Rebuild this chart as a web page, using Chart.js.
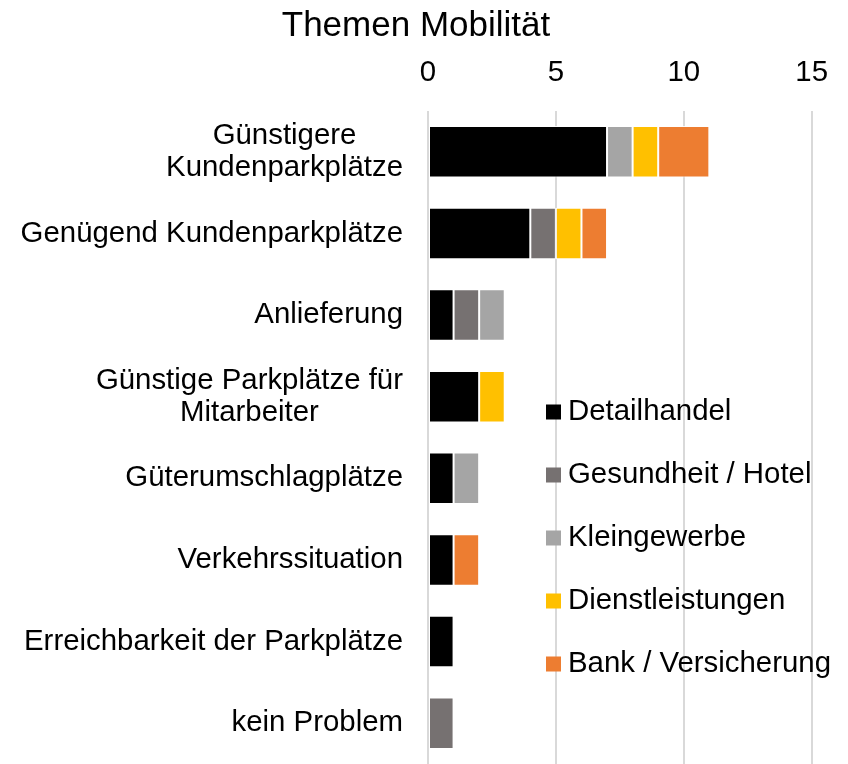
<!DOCTYPE html>
<html>
<head>
<meta charset="utf-8">
<title>Themen Mobilität</title>
<script src="https://cdn.jsdelivr.net/npm/chart.js@4.4.1/dist/chart.umd.min.js"></script>
<style>
    html, body { margin: 0; padding: 0; background: #fff; }
    #wrap { width: 848px; height: 764px; }
</style>
</head>
<body>
<div id="wrap"><canvas id="the-chart" width="848" height="764"></canvas></div>
<script>
const categories = [
    ["Günstigere", "Kundenparkplätze"],
    "Genügend Kundenparkplätze",
    "Anlieferung",
    ["Günstige Parkplätze für", "Mitarbeiter"],
    "Güterumschlagplätze",
    "Verkehrssituation",
    "Erreichbarkeit der Parkplätze",
    "kein Problem"
];
const seriesNames = ["Detailhandel", "Gesundheit / Hotel", "Kleingewerbe", "Dienstleistungen", "Bank / Versicherung"];
const seriesColors = ["#000000", "#767171", "#a5a5a5", "#ffc000", "#ed7d31"];
const detailhandel = [7, 4, 1, 2, 1, 1, 1, 0];
const gesundheit = [0, 1, 1, 0, 0, 0, 0, 1];
const kleingewerbe = [1, 0, 1, 0, 1, 0, 0, 0];
const dienstleistungen = [1, 1, 0, 1, 0, 0, 0, 0];
const bank = [2, 1, 0, 0, 0, 1, 0, 0];
const xTicks = [0, 5, 10, 15];

const FONT = "'Liberation Sans', Arial, sans-serif";
const values = [detailhandel, gesundheit, kleingewerbe, dienstleistungen, bank];

// y labels: block right-aligned, lines centered within the block (like the office chart)
const yLabelPlugin = {
    id: 'yLabels',
    afterDraw(chart) {
        const ctx = chart.ctx;
        const yScale = chart.scales.y;
        ctx.save();
        ctx.font = "29.4px " + FONT;
        ctx.fillStyle = "#000";
        ctx.textAlign = "center";
        ctx.textBaseline = "middle";
        const right = chart.chartArea.left - 25;
        categories.forEach((label, i) => {
            const lines = Array.isArray(label) ? label : [label];
            const maxW = Math.max(...lines.map(l => ctx.measureText(l).width));
            const cy = yScale.getPixelForTick(i);
            const lh = 32;
            lines.forEach((line, j) => {
                const y = cy + (j - (lines.length - 1) / 2) * lh;
                ctx.fillText(line, right - maxW / 2, y);
            });
        });
        ctx.restore();
    }
};

// legend drawn inside the plot area
const legendPlugin = {
    id: 'innerLegend',
    afterDraw(chart) {
        const ctx = chart.ctx;
        ctx.save();
        ctx.font = "29.4px " + FONT;
        ctx.textBaseline = "middle";
        ctx.textAlign = "left";
        chart.data.datasets.forEach((ds, i) => {
            const cy = 412 + i * 63;
            ctx.fillStyle = ds.backgroundColor;
            ctx.fillRect(546, cy - 7.5, 15, 15);
            ctx.fillStyle = "#000";
            ctx.fillText(ds.label, 568, cy);
        });
        ctx.restore();
    }
};

const chart = new Chart(document.getElementById('the-chart'), {
    type: 'bar',
    data: {
        labels: categories,
        datasets: seriesNames.map((name, i) => ({
            label: name,
            data: values[i],
            backgroundColor: seriesColors[i],
            borderColor: 'rgba(255,255,255,0.85)',
            borderWidth: ctx => (ctx.raw ? 1 : 0),
            borderSkipped: false,
            barPercentage: 0.63,
            categoryPercentage: 1
        }))
    },
    options: {
        indexAxis: 'y',
        responsive: false,
        animation: false,
        layout: { padding: { left: 18, right: 34, top: 0, bottom: 0 } },
        plugins: {
            legend: { display: false },
            tooltip: { enabled: false },
            title: {
                display: true,
                text: 'Themen Mobilität',
                color: '#000',
                font: { family: FONT, size: 35, weight: 'normal' },
                padding: { top: 5, bottom: 0 }
            }
        },
        scales: {
            x: {
                position: 'top',
                stacked: true,
                min: 0,
                max: 15,
                afterBuildTicks: scale => {
                    scale.ticks = xTicks.map(v => ({ value: v }));
                },
                afterFit: scale => { scale.height = 64; },
                grid: { color: '#d9d9d9', lineWidth: 2, drawTicks: false },
                border: { display: false },
                ticks: {
                    color: '#000',
                    padding: 20,
                    font: { family: FONT, size: 29.4 }
                }
            },
            y: {
                stacked: true,
                afterFit: scale => { scale.width = 410; },
                grid: { display: false },
                border: { display: false },
                ticks: { display: false }
            }
        }
    },
    plugins: [yLabelPlugin, legendPlugin]
});
</script>
</body>
</html>
